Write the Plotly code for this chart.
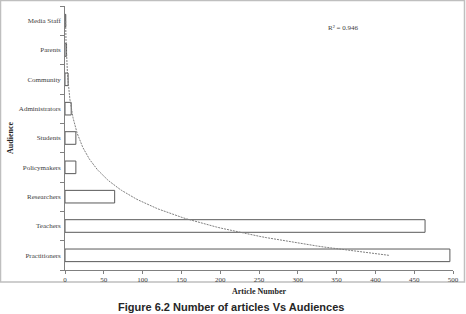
import numpy as np
import plotly.graph_objects as go

categories = ["Practitioners", "Teachers", "Researchers", "Policymakers", "Students",
              "Administrators", "Community", "Parents", "Media Staff"]
articles = [496, 464, 64, 14, 14, 8, 4, 2, 1]
x_ticks = [0, 50, 100, 150, 200, 250, 300, 350, 400, 450, 500]
r2_label = "R² = 0.946"

# Exponential trendline (as in the original spreadsheet) fitted to the data
idx = np.arange(1, len(articles) + 1)
b, lna = np.polyfit(idx, np.log(articles), 1)
t = np.linspace(1, len(articles), 200)
trend = np.exp(lna) * np.exp(b * t)

L, R, T, B = 65, 13, 6, 44
W, H = 466, 314
pw, ph = W - L - R, H - T - B

def px(xp):
    return (xp - L) / pw

def py(yp):
    return (H - B - yp) / ph

fig = go.Figure()
fig.add_trace(go.Bar(
    y=categories, x=articles, orientation="h",
    marker=dict(color="white", line=dict(color="#595959", width=1)),
    showlegend=False, hoverinfo="x+y",
))
fig.add_trace(go.Scatter(
    x=trend, y=t - 1, mode="lines",
    line=dict(color="#7f7f7f", width=1, dash="2px,1px"),
    yaxis="y2", showlegend=False, hoverinfo="skip",
))

tick_font = dict(family="Liberation Serif", size=7, color="#404040")
fig.update_layout(
    width=W, height=H,
    margin=dict(l=L, r=R, t=T, b=B),
    paper_bgcolor="white", plot_bgcolor="white",
    bargap=0.57,
    xaxis=dict(range=[0, 500], tickvals=x_ticks, ticks="outside", ticklen=3,
               tickcolor="#808080", showline=True, linecolor="#808080", linewidth=1,
               showgrid=False, zeroline=False, tickfont=tick_font,
               title=dict(text="<b>Article Number</b>", standoff=4,
                          font=dict(family="Liberation Serif", size=8, color="#262626"))),
    yaxis=dict(categoryorder="array", categoryarray=categories,
               range=[-0.5, len(categories) - 0.5],
               ticks="outside", ticklen=4, tickson="boundaries", tickcolor="#808080",
               showline=True, linecolor="#808080", linewidth=1, showgrid=False,
               tickfont=tick_font, ticksuffix=" ",
               title=dict(text="<b>Audience</b>", standoff=4,
                          font=dict(family="Liberation Serif", size=8, color="#262626"))),
    yaxis2=dict(overlaying="y", range=[-0.5, len(categories) - 0.5], visible=False),
)

fig.add_annotation(x=px(360), y=py(22), xref="paper", yref="paper",
                   text=r2_label, showarrow=False,
                   font=dict(family="Liberation Serif", size=7, color="#404040"))
fig.add_annotation(x=px(231), y=py(299), xref="paper", yref="paper", yanchor="top",
                   text="<b>Figure 6.2 Number of articles Vs Audiences</b>", showarrow=False,
                   font=dict(family="Liberation Sans", size=11, color="#262626"))
fig.add_shape(type="rect", xref="paper", yref="paper",
              x0=px(0.5), x1=px(464.5), y0=py(282), y1=py(0.5),
              line=dict(color="#bfbfbf", width=1.5), layer="below")

fig.write_html("out.html")
